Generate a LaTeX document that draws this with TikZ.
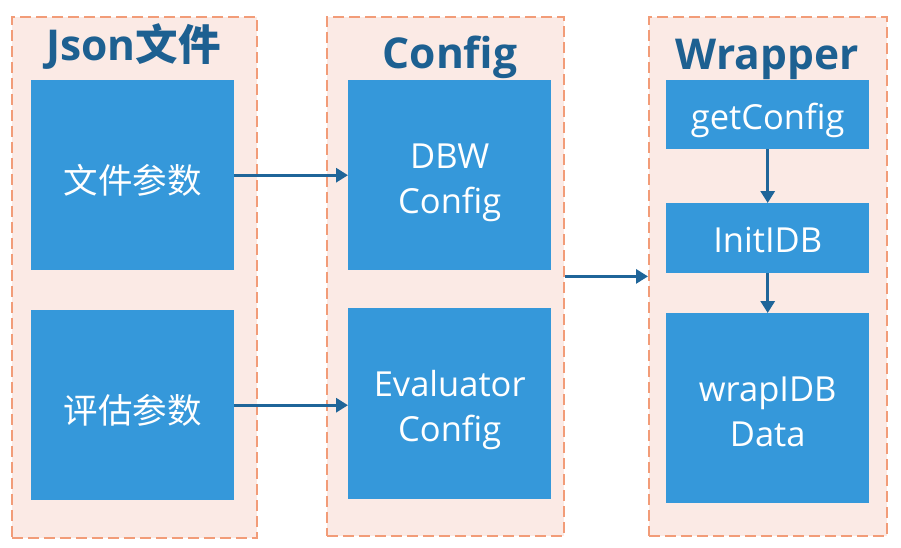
\documentclass[tikz,border=0pt]{standalone}
\usepackage{fontspec}
\setmainfont{Open Sans}
\newfontfamily\cjk{Noto Sans CJK SC}
\usetikzlibrary{arrows.meta}
\definecolor{boxblue}{HTML}{3598DA}
\definecolor{panelfill}{HTML}{FBEAE5}
\definecolor{panelborder}{HTML}{F29C78}
\definecolor{titleblue}{HTML}{1D6091}
\definecolor{arrowblue}{HTML}{1F6599}
% text placed by baseline relative to the box centre
\newcommand{\onel}[2][14.7pt]{\makebox[0pt]{\raisebox{-#1}[0pt][0pt]{#2}}}
\newcommand{\twol}[2]{\makebox[0pt]{\raisebox{7pt}[0pt][0pt]{#1}}\makebox[0pt]{\raisebox{-38pt}[0pt][0pt]{#2}}}
\begin{document}
\begin{tikzpicture}[x=1pt,y=-1pt,
  panel/.style={draw=panelborder, fill=panelfill, dash pattern=on 11pt off 5pt, line width=1.8pt, inner sep=0pt, anchor=north west},
  blk/.style={fill=boxblue, draw=none, inner sep=0pt, anchor=north west, text=white, font=\fontsize{34.5}{45}\selectfont},
  ttl/.style={anchor=base, text=titleblue, font=\fontsize{42.5}{50}\selectfont\bfseries},
  arr/.style={draw=arrowblue, line width=3.4pt, -{Triangle[length=12pt,width=14pt]}}]
\useasboundingbox (0,0) rectangle (901,547);
% panels
\node[panel, minimum width=245pt, minimum height=521pt] (p1) at (11,16) {};
\node[panel, minimum width=237pt, minimum height=519pt] (p2) at (326,16) {};
\node[panel, minimum width=238pt, minimum height=519pt] (p3) at (648,16) {};
% titles
\node[ttl] (t1) at (133.5,60) {Json{\cjk\bfseries 文件}};
\node[ttl] (t2) at (450,68) {Config};
\node[ttl] (t3) at (767,69) {Wrapper};
% boxes
\node[blk, minimum width=203pt, minimum height=190pt] (b1) at (31,80) {\cjk\onel[18pt]{文件参数}};
\node[blk, minimum width=203pt, minimum height=190pt] (b2) at (31,310) {\cjk\onel[18pt]{评估参数}};
\node[blk, minimum width=203pt, minimum height=190pt] (b3) at (348,80) {\twol{DBW}{Config}};
\node[blk, minimum width=203pt, minimum height=191pt] (b4) at (348,308) {\twol{Evaluator}{Config}};
\node[blk, minimum width=203pt, minimum height=69pt] (b5) at (666,80) {\onel{getConfig}};
\node[blk, minimum width=203pt, minimum height=70pt] (b6) at (666,203) {\onel{InitIDB}};
\node[blk, minimum width=203pt, minimum height=190pt] (b7) at (666,313) {\twol{wrapIDB}{Data}};
% arrows
\draw[arr] (b1.east) -- (b1.east -| b3.west);
\draw[arr] (b2.east) -- (b2.east -| b4.west);
\draw[arr] (p2.east) -- (p3.west);
\draw[arr] (b5.south) -- (b6.north);
\draw[arr] (b6.south) -- (b7.north);
\end{tikzpicture}
\end{document}
